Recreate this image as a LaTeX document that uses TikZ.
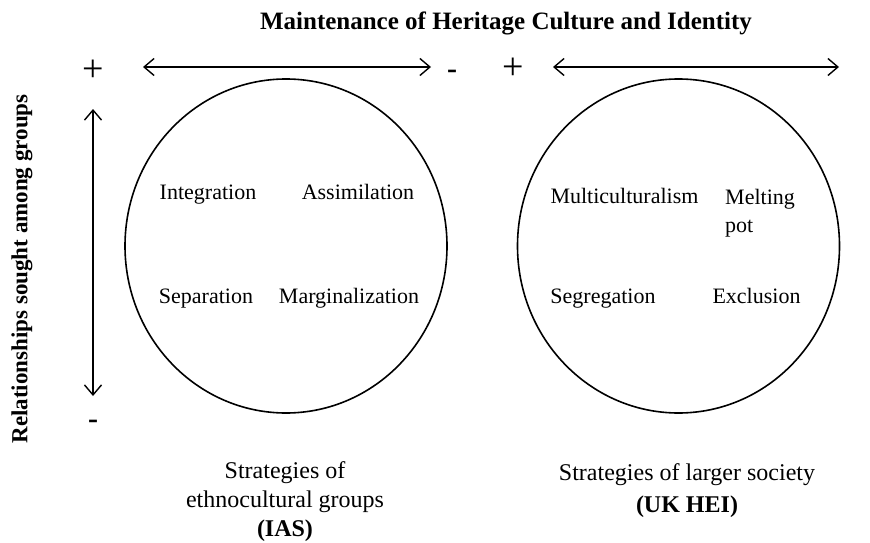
\documentclass[tikz,border=0pt]{standalone}
\usepackage{fontspec}
\setmainfont{Liberation Serif}
\usetikzlibrary{arrows.meta,positioning,shapes.geometric}

\begin{document}
\begin{tikzpicture}[x=1pt,y=-1pt, ring/.style={draw,ellipse,line width=1.6pt,minimum width=322pt,minimum height=334pt,inner sep=0pt}, lbl/.style={font=\fontsize{22}{28}\selectfont,inner sep=0pt,anchor=base}, captext/.style={font=\fontsize{24}{29}\selectfont,align=center,inner sep=0pt,anchor=base}, plus/.style={font=\fontsize{38}{38}\selectfont,inner sep=0pt}, minus/.style={font=\fontsize{30}{30}\selectfont\bfseries,inner sep=0pt}, >={Straight Barb[length=10pt,width=17pt]}]
\useasboundingbox (0,0) rectangle (870,543);
\node[font=\fontsize{25}{28}\selectfont\bfseries,inner sep=0pt,anchor=base] (title) at (506,30) {Maintenance of Heritage Culture and Identity};
\node[font=\fontsize{23}{28}\selectfont\bfseries,inner sep=0pt,rotate=90] (rel) at (22,269) {Relationships sought among groups};
% signs
\node[plus] (p1) at (93,71) {+};
\node[minus] (m1) at (452,74) {-};
\node[plus] (p2) at (513,69) {+};
\node[minus] (m2) at (874,76) {-};
\node[minus] (m3) at (93,424) {-};
% arrows
\coordinate (a1) at (143,67); \coordinate (b1) at (431,67);
\coordinate (a2) at (553,67); \coordinate (b2) at (839,67);
\coordinate (a3) at (93,109); \coordinate (b3) at (93,396);
\draw[<->,line width=1.4pt] (a1)--(b1); \draw[<->,line width=1.4pt] (a2)--(b2); \draw[<->,line width=1.4pt] (a3)--(b3);
% circles
\node[ring] (ias) at (286,246) {};
\node[ring] (hei) at (678.5,246) {};
\node[lbl] (integ) at (208,199) {Integration};
\node[lbl] (assim) at (358,199) {Assimilation};
\node[lbl] (separ) at (206,303) {Separation};
\node[lbl] (margi) at (349,303) {Marginalization};
\node[lbl] (multi) at (624.5,203) {Multiculturalism};
\node[lbl,anchor=base west,align=left] (melt) at (725,232) {Melting\\pot};
\node[lbl] (segre) at (603,303) {Segregation};
\node[lbl] (exclu) at (756.5,303) {Exclusion};
% captions
\node[captext] (capl) at (285,536) {Strategies of\\ethnocultural groups\\\textbf{(IAS)}};
\node[captext,font=\fontsize{24}{32}\selectfont] (capr) at (687,512) {Strategies of larger society\\\textbf{(UK HEI)}};
\end{tikzpicture}
\end{document}
